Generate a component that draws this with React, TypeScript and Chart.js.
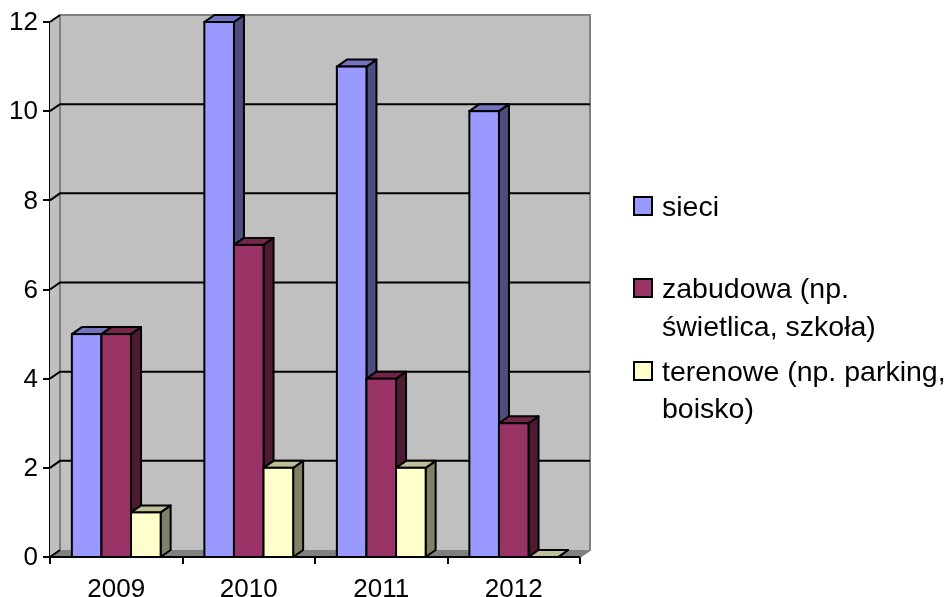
import React, { useEffect, useRef } from "react";
import { Chart, registerables } from "chart.js";

Chart.register(...registerables);

const years = ["2009", "2010", "2011", "2012"];
const sieci = [5, 12, 11, 10];
const zabudowa = [5, 7, 4, 3];
const terenowe = [1, 2, 2, 0];
const seriesNames = ["sieci", "zabudowa (np.\nświetlica, szkoła)", "terenowe (np. parking,\nboisko)"];
const frontColors = ["#9999FF", "#993366", "#FFFFCC"];
const topColors = ["#7373BF", "#732649", "#BFBF99"];
const sideColors = ["#4D4D80", "#4D1A33", "#808066"];

const FONT = '"Liberation Sans", Arial, sans-serif';
const DX = 10;
const DY = 7;
const legendRows = [
  { swatchY: 197, textY: [208] },
  { swatchY: 279, textY: [290, 328] },
  { swatchY: 362, textY: [373, 410] },
];

function poly(ctx: CanvasRenderingContext2D, pts: number[][], fill: string, stroke?: string, lw = 2) {
  ctx.beginPath();
  pts.forEach((p, i) => (i ? ctx.lineTo(p[0], p[1]) : ctx.moveTo(p[0], p[1])));
  ctx.closePath();
  ctx.fillStyle = fill;
  ctx.fill();
  if (stroke) {
    ctx.strokeStyle = stroke;
    ctx.lineWidth = lw;
    ctx.lineJoin = "round";
    ctx.stroke();
  }
}

const box3d = {
  id: "box3d",
  beforeDatasetsDraw(chart: any) {
    const { ctx, chartArea: a, scales } = chart;
    ctx.save();
    // left wall, back wall, floor
    poly(ctx, [[a.left, a.top], [a.left + DX, a.top - DY], [a.left + DX, a.bottom - DY], [a.left, a.bottom]], "#C0C0C0");
    poly(ctx, [[a.left + DX, a.top - DY], [a.right + DX, a.top - DY], [a.right + DX, a.bottom - DY], [a.left + DX, a.bottom - DY]], "#C0C0C0");
    poly(ctx, [[a.left, a.bottom], [a.left + DX, a.bottom - DY], [a.right + DX, a.bottom - DY], [a.right, a.bottom]], "#808080");
    ctx.strokeStyle = "#808080";
    ctx.lineWidth = 2;
    ctx.beginPath();
    ctx.moveTo(a.left + DX, a.bottom - DY);
    ctx.lineTo(a.left + DX, a.top - DY);
    ctx.lineTo(a.right + DX, a.top - DY);
    ctx.lineTo(a.right + DX, a.bottom - DY);
    ctx.lineTo(a.right, a.bottom);
    ctx.stroke();
    // grid lines on the back wall, joined to the axis across the left wall
    scales.y.ticks.forEach((t: any) => {
      const y = scales.y.getPixelForValue(t.value);
      ctx.strokeStyle = "#000";
      ctx.lineWidth = 2;
      ctx.beginPath();
      ctx.moveTo(a.left, y);
      ctx.lineTo(a.left + DX, y - DY);
      if (t.value > 0 && t.value < 12) ctx.lineTo(a.right + DX, y - DY);
      ctx.stroke();
    });
    ctx.restore();
  },
  // Chart.js paints left-hand bars last; in this view they must be painted first.
  beforeDatasetDraw() {
    return false;
  },
  afterDatasetsDraw(chart: any) {
    const { ctx, scales } = chart;
    const base = scales.y.getPixelForValue(0);
    chart.data.datasets.forEach((_: any, i: number) => {
      const meta = chart.getDatasetMeta(i);
      ctx.save();
      meta.data.forEach((bar: any) => {
        const l = bar.x - bar.width / 2;
        const r = bar.x + bar.width / 2;
        const t = bar.y;
        poly(ctx, [[r, t], [r + DX, t - DY], [r + DX, base - DY], [r, base]], sideColors[i], "#000");
        poly(ctx, [[l, t], [l + DX, t - DY], [r + DX, t - DY], [r, t]], topColors[i], "#000");
      });
      ctx.restore();
      meta.controller.draw();
      ctx.save();
      ctx.strokeStyle = "#000";
      ctx.lineWidth = 2;
      meta.data.forEach((bar: any) => {
        ctx.strokeRect(bar.x - bar.width / 2, bar.y, bar.width, base - bar.y);
      });
      ctx.restore();
    });
  },
  afterDraw(chart: any) {
    const { ctx, chartArea: a } = chart;
    ctx.save();
    ctx.strokeStyle = "#000";
    ctx.lineWidth = 2;
    ctx.beginPath();
    ctx.moveTo(a.left, a.bottom);
    ctx.lineTo(a.right, a.bottom);
    ctx.stroke();
    // legend
    ctx.font = `28.5px ${FONT}`;
    ctx.textBaseline = "middle";
    ctx.textAlign = "left";
    chart.data.datasets.forEach((ds: any, i: number) => {
      const row = legendRows[i];
      ctx.fillStyle = frontColors[i];
      ctx.fillRect(634, row.swatchY, 18, 18);
      ctx.strokeRect(634, row.swatchY, 18, 18);
      ctx.fillStyle = "#000";
      String(ds.label)
        .split("\n")
        .forEach((line, k) => ctx.fillText(line, 662, row.textY[k]));
    });
    ctx.restore();
  },
};

export default function App() {
  const ref = useRef<HTMLCanvasElement>(null);
  useEffect(() => {
    const values = [sieci, zabudowa, terenowe];
    const tickFont = { family: FONT, size: 26 };
    const chart = new Chart(ref.current!, {
      type: "bar",
      plugins: [box3d],
      data: {
        labels: years,
        datasets: values.map((data, i) => ({
          label: seriesNames[i],
          data,
          backgroundColor: frontColors[i],
          borderWidth: 0,
          clip: false as any,
          categoryPercentage: 0.67,
          barPercentage: 1,
        })),
      },
      options: {
        animation: false,
        responsive: false,
        devicePixelRatio: 1,
        layout: { padding: { left: 0, top: 22, right: 370, bottom: 0 } },
        plugins: { legend: { display: false }, tooltip: { enabled: false }, title: { display: false } },
        scales: {
          x: {
            afterFit: (s: any) => {
              s.height = 40;
            },
            grid: { drawOnChartArea: false, color: "#000", lineWidth: 2, tickLength: 7 },
            border: { color: "#000", width: 2 },
            ticks: { font: tickFont, color: "#000", padding: 10, maxRotation: 0 },
          },
          y: {
            min: 0,
            max: 12,
            afterFit: (s: any) => {
              s.width = 50;
            },
            grid: { drawOnChartArea: false, color: "#000", lineWidth: 2, tickLength: 7 },
            border: { color: "#000", width: 2 },
            ticks: { stepSize: 2, font: tickFont, color: "#000", padding: 5, labelOffset: 1 },
          },
        },
      },
    });
    return () => chart.destroy();
  }, []);
  return (
    <div style={{ position: "absolute", left: 0, top: 0, width: 950, height: 597, background: "#fff" }}>
      <canvas ref={ref} width={950} height={597} style={{ display: "block" }} />
    </div>
  );
}
